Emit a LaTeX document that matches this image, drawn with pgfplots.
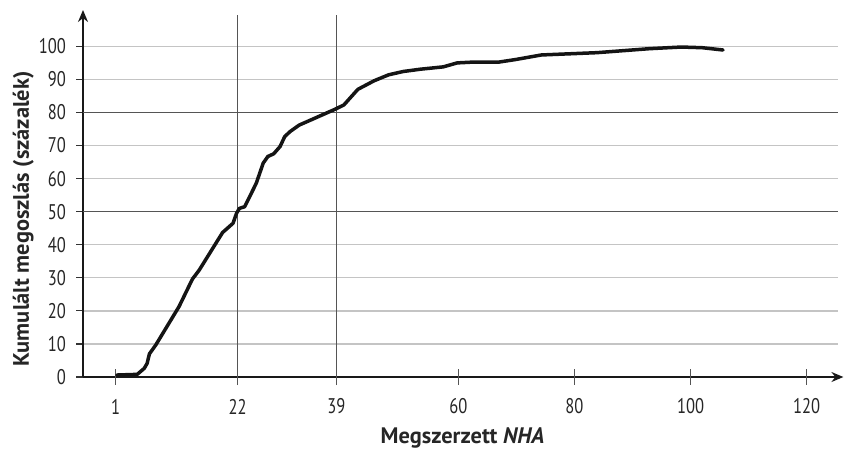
\documentclass[border=0pt]{standalone}
\usepackage{pgfplots}
\pgfplotsset{compat=1.18}
\usepackage{fontspec}
\setmainfont{PT Sans}
\newfontfamily\condensed[FakeStretch=0.78]{PT Sans}
\usetikzlibrary{arrows.meta}
\definecolor{gridlight}{HTML}{C4C4C4}
\definecolor{griddark}{HTML}{555555}
\definecolor{txt}{HTML}{262626}
\begin{document}
\begin{tikzpicture}
\path[use as bounding box] (-41.5pt,-37.5pt) rectangle (380.5pt,188.5pt);
\begin{axis}[
  at={(0,0)}, anchor=south west,
  scale only axis, width=377.5pt, height=183.5pt,
  xmin=-4.64, xmax=125.4, ymin=0, ymax=111,
  axis lines=left,
  axis line style={line width=0.8pt, color=black!90},
  x axis line style={-{Stealth[length=6pt,width=5pt]}, shorten >=-2.7pt},
  y axis line style={-{Stealth[length=6pt,width=5pt]}},
  xtick={1,22,39,60,80,100,120},
  ytick={0,10,...,100},
  xtick style={draw=none},
  ytick align=outside,
  major tick length=3.5pt,
  ytick style={line width=0.6pt, color=black!80},
  ymajorgrids, grid style={gridlight, line width=0.65pt},
  /pgf/number format/assume math mode=true,
  ticklabel style={font=\condensed\fontsize{10.6}{12}\selectfont, text=txt},
  xticklabel style={anchor=center, yshift=-13pt},
  yticklabel style={xshift=-1.5pt},
  xlabel={Megszerzett \textit{NHA}},
  ylabel={Kumulált megoszlás (százalék)},
  xlabel style={font=\bfseries\fontsize{11.2}{13}\selectfont, text=txt, at={(axis description cs:0.5026,-0.165)}, anchor=center},
  ylabel style={font=\bfseries\fontsize{11.2}{13}\selectfont, text=txt, at={(axis description cs:-0.079,0.4305)}, anchor=center},
  clip=false,
]
\addplot[griddark, line width=0.65pt] coordinates {(-4.64,50) (125.4,50)};
\addplot[griddark, line width=0.65pt] coordinates {(-4.64,80) (125.4,80)};
\draw[griddark, line width=0.6pt] ([yshift=-4pt]axis cs:22,0) -- (axis cs:22,109.6);
\draw[griddark, line width=0.6pt] ([yshift=-4pt]axis cs:39,0) -- (axis cs:39,109.6);
\pgfplotsinvokeforeach{1,60,80,100,120}{
  \draw[griddark, line width=0.5pt] ([yshift=4pt]axis cs:#1,0) -- ([yshift=-4pt]axis cs:#1,0);
}
\addplot[color=black!92, line width=1.75pt, line join=round, line cap=round] coordinates {
(1.2,0.6) (4.7,0.8) (5.9,2.6) (6.4,4.1) (6.8,7.0) (7.9,9.7) (11.9,21.3)
(14.2,29.6) (15.4,32.4) (19.4,43.7) (21.2,46.5) (21.8,49.5) (22.3,51.0)
(23.2,51.5) (23.8,53.6) (25.2,58.6) (26.4,64.7) (27.2,66.7) (28.2,67.5)
(29.3,69.7) (30.1,72.7) (31.0,74.2) (32.6,76.2) (33.9,77.2) (38.8,81.0)
(40.3,82.3) (42.7,87.0) (45.5,89.6) (48.0,91.4) (50.5,92.4) (53.5,93.1)
(57.4,93.8) (59.8,95.0) (62.0,95.2) (66.8,95.2)
(69.8,96.0) (74.3,97.4) (83.9,98.1) (92.9,99.3) (98.4,99.8) (102.0,99.6)
(105.6,98.9)
};
\end{axis}
\end{tikzpicture}
\end{document}
